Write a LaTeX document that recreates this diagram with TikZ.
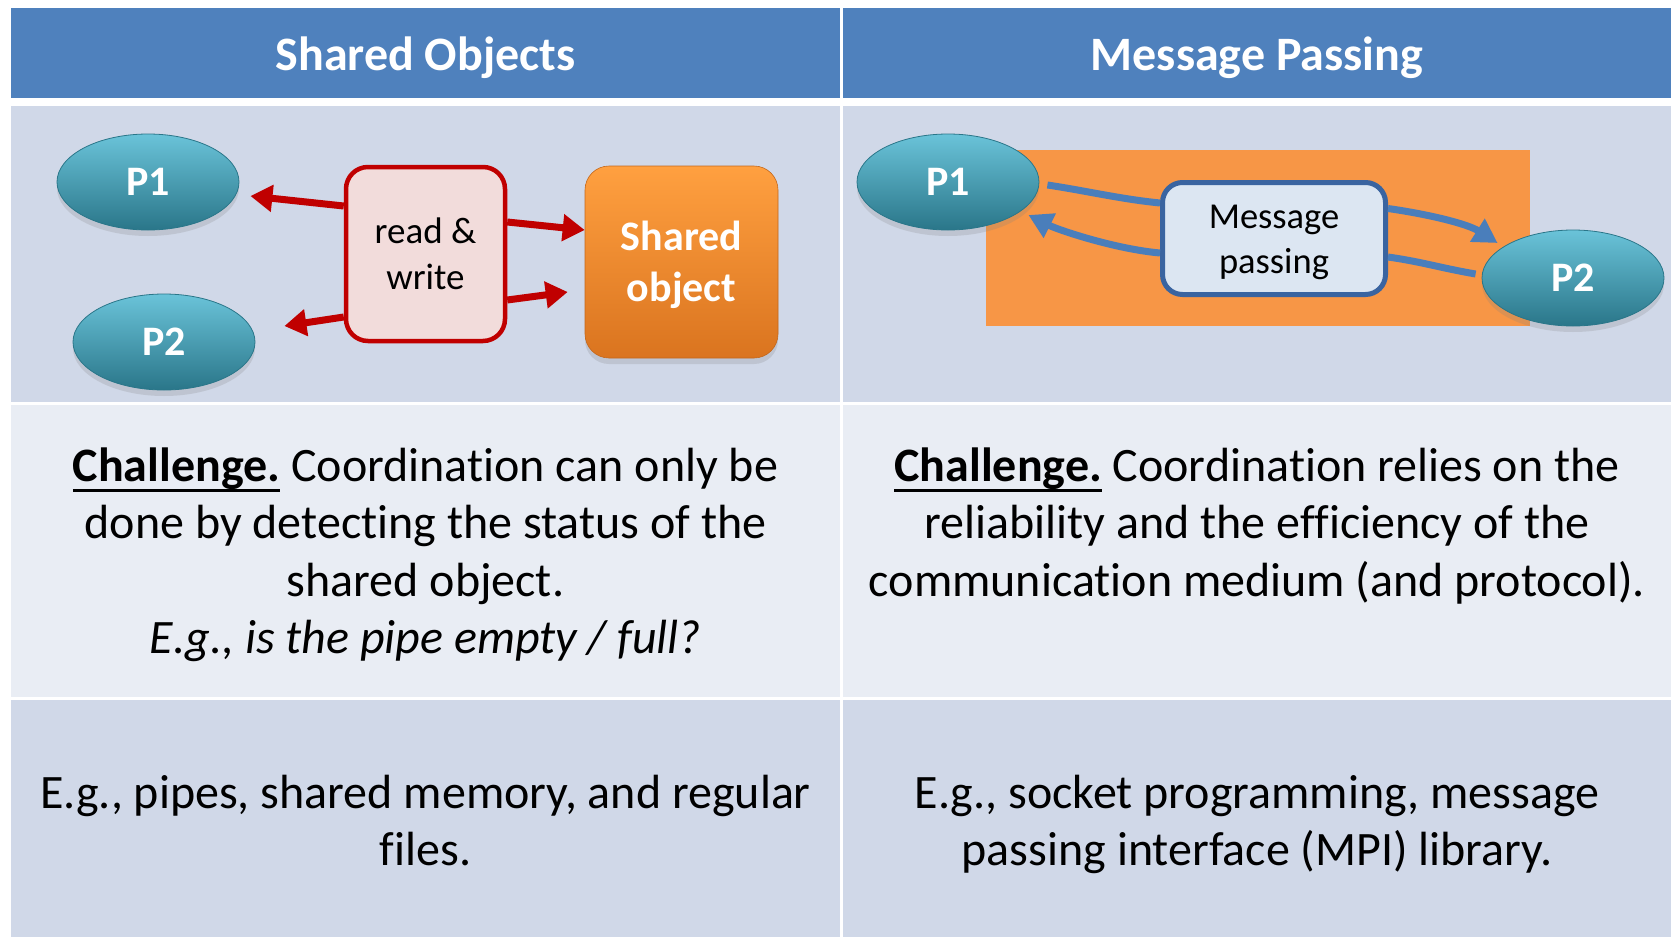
\documentclass[tikz,border=0pt]{standalone}
\usepackage{fontspec}
\setmainfont{Carlito}[Ligatures=NoCommon]
\usetikzlibrary{shapes.geometric,arrows.meta,shadows,calc}

% palette
\definecolor{hdr}{HTML}{4F81BD}
\definecolor{rowdark}{HTML}{D0D8E8}
\definecolor{rowlight}{HTML}{E9EDF4}
\definecolor{procTop}{HTML}{6AC3D9}
\definecolor{procMid}{HTML}{378EA3}
\definecolor{procBot}{HTML}{2A7689}
\definecolor{rwred}{HTML}{C00000}
\definecolor{rwfill}{HTML}{F2DCDB}
\definecolor{objTop}{HTML}{FFA040}
\definecolor{objBot}{HTML}{DA741F}
\definecolor{medium}{HTML}{F79646}
\definecolor{msgline}{HTML}{3A64A0}
\definecolor{msgfill}{HTML}{DCE6F2}
\definecolor{flow}{HTML}{4A7EBB}

% bold word with a heavy underline
\newcommand\ulword[1]{\leavevmode\setbox0\hbox{#1}\rlap{\rule[-11pt]{\wd0}{3pt}}\box0\relax}

\begin{document}
\begin{tikzpicture}[x=1pt,y=-1pt,
  hdrtext/.style={text=white,font=\fontsize{48}{57.5}\selectfont\bfseries,anchor=base},
  bodytext/.style={text=black,font=\fontsize{48}{57.6}\selectfont,text width=820pt,align=flush center,anchor=base,inner sep=0pt},
  proc/.style={ellipse,inner sep=0pt,minimum width=182pt,minimum height=96pt,
    top color=procTop,middle color=procMid,bottom color=procBot,draw=procBot,line width=0.8pt,
    text=white,font=\fontsize{42}{50}\selectfont\bfseries,
    drop shadow={shadow xshift=0pt,shadow yshift=-6pt,opacity=0.22}},
  rwbox/.style={rectangle,rounded corners=22pt,draw=rwred,line width=4.5pt,fill=rwfill,
    minimum width=159pt,minimum height=174pt,align=center,
    font=\fontsize{37}{45.5}\selectfont},
  objbox/.style={rectangle,rounded corners=24pt,top color=objTop,bottom color=objBot,
    draw=objBot!90!black,line width=0.6pt,minimum width=193pt,minimum height=192pt,
    align=center,text=white,font=\fontsize{42}{51}\selectfont\bfseries,
    drop shadow={shadow xshift=0pt,shadow yshift=-6pt,opacity=0.22}},
  msgbox/.style={rectangle,rounded corners=20pt,draw=msgline,line width=5pt,fill=msgfill,
    minimum width=223pt,minimum height=112pt,align=center,
    font=\fontsize{36.5}{45}\selectfont},
  redarrow/.style={draw=rwred,line width=7pt,-{Triangle[length=22pt,width=26pt]}},
  flowline/.style={draw=flow,line width=7pt},
  flowarrow/.style={flowline,-{Triangle[length=24pt,width=26pt]}}
]
\useasboundingbox (0,0) rectangle (1671,937);
\fill[white] (0,0) rectangle (1671,937);

% table cells
\fill[hdr] (11,7.5) rectangle (840,98);
\fill[hdr] (843,7.5) rectangle (1671,98);
\fill[rowdark] (11,106) rectangle (840,402);
\fill[rowdark] (843,106) rectangle (1671,402);
\fill[rowlight] (11,405) rectangle (840,697);
\fill[rowlight] (843,405) rectangle (1671,697);
\fill[rowdark] (11,700) rectangle (840,937);
\fill[rowdark] (843,700) rectangle (1671,937);

% headers
\node[hdrtext] (h1) at (425.5,70) {Shared Objects};
\node[hdrtext] (h2) at (1257,70) {Message Passing};

% shared objects scheme
\node[proc] (p1) at (148,182) {P1};
\node[proc] (p2) at (164,342) {P2};
\node[rwbox] (rw) at (425.5,254) {read \&\\write};
\node[objbox] (so) at (681.5,262) {\rule{0pt}{35pt}Shared\\object};

\draw[redarrow] ($(rw.west)+(0,-48)$) -- ($(p1.east)+(11,14)$);
\draw[redarrow] ($(rw.west)+(0,63)$) -- ($(p2.east)+(29,-16)$);
\draw[redarrow] ($(rw.east)+(0,-32)$) -- ($(so.west)+(0,-32)$);
\draw[redarrow] ($(rw.east)+(0,46)$) -- ($(so.west)+(-17,30)$);

% message passing scheme
\fill[medium] (986,150) rectangle (1530,326);
\node[proc] (q1) at (948,182) {P1};
\node[proc] (q2) at (1573,278) {P2};
\node[msgbox] (mp) at (1274,238.5) {\rule{0pt}{31pt}Message\\passing};

\draw[flowline] ($(q1.east)+(8,3)$) .. controls +(40,6) and +(-40,-4) .. ($(mp.west)+(0,-35.5)$);
\draw[flowarrow] ($(mp.east)+(0,-30)$) .. controls +(42,6) and +(-30,-19) .. ($(q2.west)+(16,-35)$);
\draw[flowline] ($(q2.west)+(-6,-4)$) .. controls +(-35,-6) and +(35,5) .. ($(mp.east)+(0,18.5)$);
\draw[flowarrow] ($(mp.west)+(0,14.5)$) .. controls +(-45,-4) and +(30,15) .. ($(q1.east)+(-11,33)$);

% challenge row
\node[bodytext] (c1) at (425.5,481) {\ulword{\textbf{Challenge.}} Coordination can only be\\
  done by detecting the status of the\\ shared object.\\ \textit{E.g., is the pipe empty / full?}};
\node[bodytext] (c2) at (1257,481) {\ulword{\textbf{Challenge.}} Coordination relies on the\\
  reliability and the efficiency of the\\ communication medium (and protocol).};

% example row
\node[bodytext] (e1) at (425.5,808) {E.g., pipes, shared memory, and regular\\ files.};
\node[bodytext] (e2) at (1257,808) {E.g., socket programming, message\\ passing interface (MPI) library.};
\end{tikzpicture}
\end{document}
